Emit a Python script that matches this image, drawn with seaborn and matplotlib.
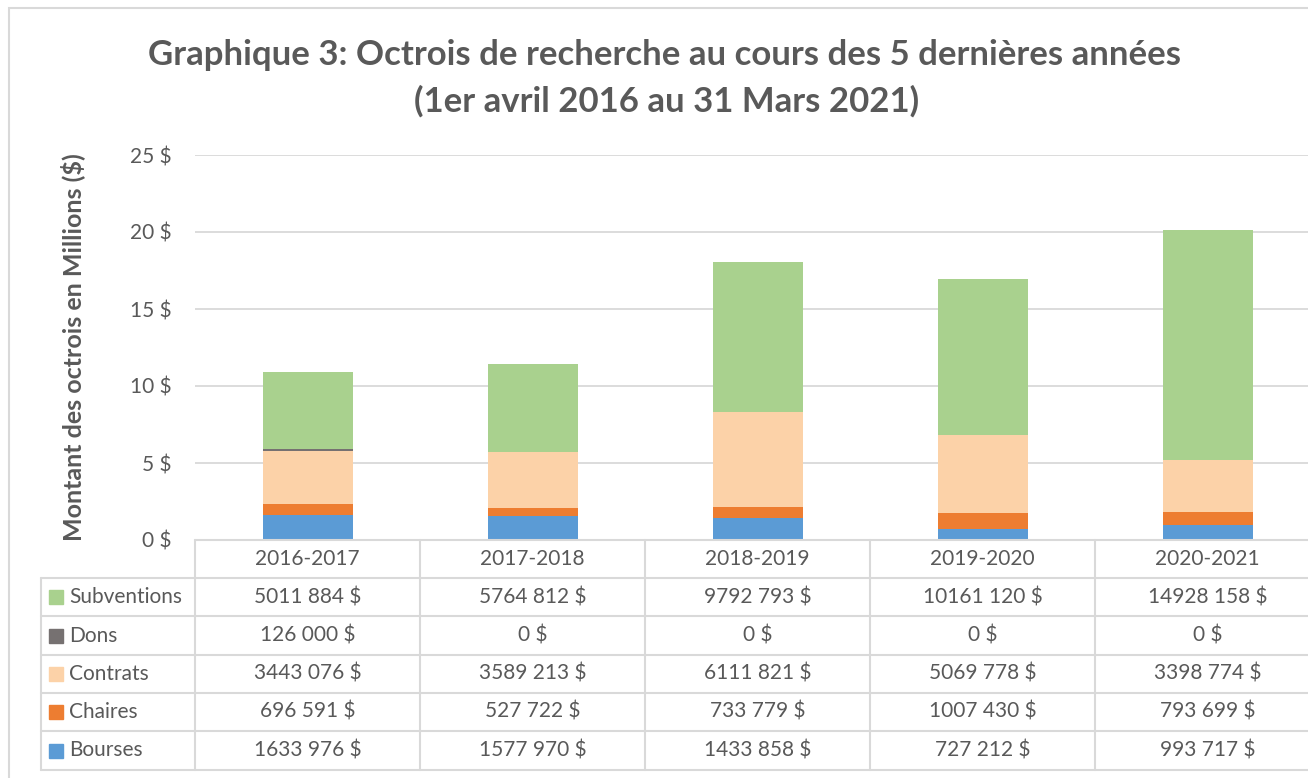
import matplotlib
matplotlib.use("Agg")
import matplotlib.pyplot as plt
import matplotlib.transforms as mtransforms
from matplotlib.patches import Rectangle
import seaborn as sns
import numpy as np

# Data (dollars)
years = ['2016-2017', '2017-2018', '2018-2019', '2019-2020', '2020-2021']
subventions = [5011884, 5764812, 9792793, 10161120, 14928158]
dons = [126000, 0, 0, 0, 0]
contrats = [3443076, 3589213, 6111821, 5069778, 3398774]
chaires = [696591, 527722, 733779, 1007430, 793699]
bourses = [1633976, 1577970, 1433858, 727212, 993717]

# stacking order bottom -> top
series = [('Bourses', bourses, '#5B9BD5'),
          ('Chaires', chaires, '#ED7D31'),
          ('Contrats', contrats, '#FCD2A8'),
          ('Dons', dons, '#767171'),
          ('Subventions', subventions, '#A9D18E')]

sns.set_style('white')
plt.rcParams['font.family'] = ['Lato', 'DejaVu Sans']
txt = '#595959'
grid = '#D9D9D9'
fs = 15

W, H = 1308, 778
fig = plt.figure(figsize=(W / 100, H / 100), dpi=100)

def fx(px):
    return px / W

def fy(py):
    return 1 - py / H

ax = fig.add_axes([fx(195), fy(540), fx(1320) - fx(195), fy(155) - fy(540)])

# cumulative stacks, drawn tallest first so lower layers overlay
cum = np.cumsum([np.array(v) / 1e6 for _, v, _ in series], axis=0)
for i in range(len(series) - 1, -1, -1):
    sns.barplot(x=years, y=cum[i], color=series[i][2], width=0.4,
                saturation=1, ax=ax, zorder=2, linewidth=0)

ax.set_ylim(0, 25)
ax.set_xlim(-0.5, 4.5)
ax.set_yticks(range(0, 26, 5))
ax.set_yticklabels([f'{v} $' for v in range(0, 26, 5)], color=txt, fontsize=fs)
ax.set_xticks([])
ax.set_xlabel('')
ax.set_ylabel('Montant des octrois en Millions ($)', fontsize=18, fontweight='bold',
              color=txt, labelpad=32)
ax.tick_params(axis='y', length=0, pad=17)
ax.yaxis.grid(True, color=grid, lw=1.3, zorder=0)
ax.set_axisbelow(True)
for s in ax.spines.values():
    s.set_visible(False)

fig.text(fx(664), fy(55), 'Graphique 3: Octrois de recherche au cours des 5 dernières années',
         ha='center', va='center', fontsize=25, fontweight='bold', color=txt)
fig.text(fx(667), fy(101), '(1er avril 2016 au 31 Mars 2021)',
         ha='center', va='center', fontsize=25, fontweight='bold', color=txt)

# Data table
trans = mtransforms.blended_transform_factory(ax.transData, fig.transFigure)
row_y = [540, 578, 616, 655, 693, 731, 770]
for k, py in enumerate(row_y):
    x0 = fx(195) if k == 0 else fx(41)
    fig.add_artist(plt.Line2D([x0, 1.01], [fy(py), fy(py)], color=grid, lw=1.5))
fig.add_artist(plt.Line2D([fx(41), fx(41)], [fy(578), fy(770)], color=grid, lw=1.5))
fig.add_artist(plt.Line2D([fx(195), fx(195)], [fy(540), fy(770)], color=grid, lw=1.5))
for b in range(len(years) - 1):
    fig.add_artist(plt.Line2D([b + 0.5, b + 0.5], [fy(540), fy(770)], color=grid,
                              lw=1.5, transform=trans))

def fmt(v):
    if v == 0:
        return '0 $'
    return f'{v // 1000} {v % 1000:03d} $'

for j, yr in enumerate(years):
    fig.text(j, fy(559), yr, transform=trans, ha='center', va='center',
             fontsize=fs, color=txt)

for r, (name, vals, col) in enumerate(series[::-1]):
    yc = (row_y[r + 1] + row_y[r + 2]) / 2
    fig.add_artist(Rectangle((fx(49), fy(yc + 7)), fx(14), 14 / H, color=col))
    fig.text(fx(69), fy(yc), name, ha='left', va='center', fontsize=fs, color=txt)
    for j, v in enumerate(vals):
        fig.text(j, fy(yc), fmt(v), transform=trans, ha='center', va='center',
                 fontsize=fs, color=txt)

# chart frame
fig.add_artist(Rectangle((fx(9), fy(800)), 1.1, fy(8) - fy(800), fill=False,
                         edgecolor=grid, lw=1.5))

fig.savefig('out.png', dpi=100)
